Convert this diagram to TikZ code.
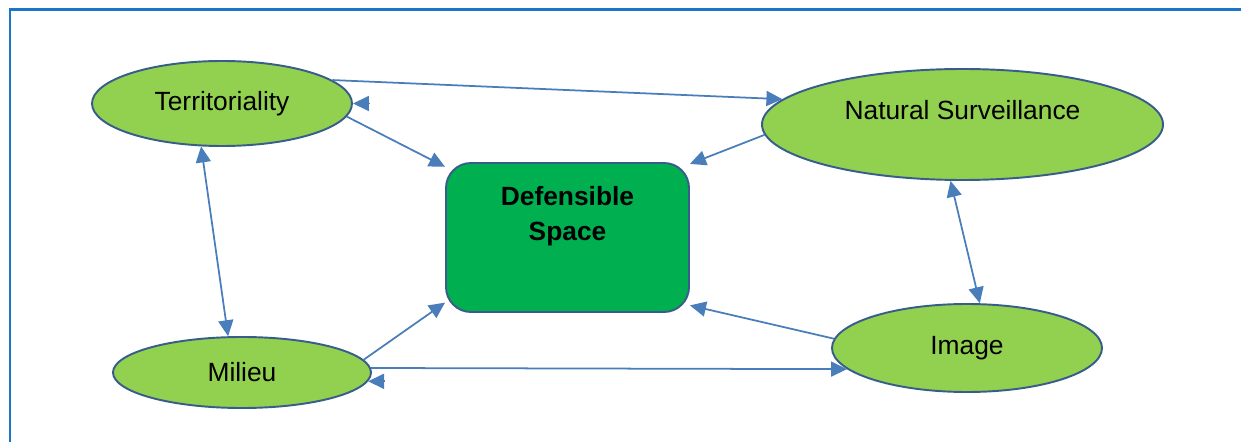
\documentclass[tikz,border=0pt]{standalone}
\usepackage{fontspec}
\setmainfont{Liberation Sans}
\usetikzlibrary{shapes.geometric,arrows.meta}
\definecolor{framblue}{HTML}{1A76C6}
\definecolor{linkblue}{HTML}{4A7EBB}
\definecolor{rimblue}{HTML}{385D8A}
\definecolor{lightgreen}{HTML}{92D050}
\definecolor{deepgreen}{HTML}{00B050}
\begin{document}
\begin{tikzpicture}[
	   font=\fontsize{15}{18}\selectfont,
	   blob/.style={ellipse,draw=rimblue,fill=lightgreen,line width=1.1pt,inner sep=0pt},
	   core/.style={rectangle,rounded corners=.5cm,draw=rimblue,fill=deepgreen,line width=1.1pt,minimum width=4.86cm,minimum height=2.98cm},
	   arrowhd/.tip={Triangle[length=.32cm,width=.3cm]},
	   arr/.style={-arrowhd,draw=linkblue,line width=1pt},
	   dbl/.style={arrowhd-arrowhd,draw=linkblue,line width=1pt}]
	   \useasboundingbox(0,0)rectangle(24.82,-8.84);
	   \draw[framblue,line width=1.6pt](.2,-.19)rectangle(26,-10);
	   \node[blob,minimum width=5.2cm,minimum height=1.7cm](terr)at(4.44,-2.07){Territoriality};
	   \node[blob,minimum width=8.02cm,minimum height=2.22cm,text height=.4cm,text depth=.6cm](ns)at(19.25,-2.49){Natural Surveillance};
	   \node[blob,minimum width=5.16cm,minimum height=1.42cm](milieu)at(4.84,-7.45){Milieu};
	   \node[blob,minimum width=5.4cm,minimum height=1.76cm](image)at(19.34,-6.96){Image};
	   \node[core](ds)at(11.35,-4.75){};
	   \node[align=center,font=\fontsize{15}{19.9}\selectfont\bfseries](dstext)at([yshift=.42cm]ds.center){Defensible\\Space};
	   \draw[arr](terr.12)--(ns.172);
	   \draw[arr]([xshift=.32cm]terr.east)--(terr.east);
	   \draw[arr](terr.-6)--(ds.150);
	   \draw[arr](ns.183)--(ds.31);
	   \draw[arr](image.176)--(ds.-29);
	   \draw[arr](milieu.6)--(ds.208);
	   \draw[arr](milieu.2)--(image.190);
	   \draw[arr]([xshift=.32cm]milieu.-4)--(milieu.-4);
	   \draw[dbl](terr.-116)--(milieu.111);
	   \draw[dbl](ns.-102)--(image.74);
	\end{tikzpicture}
\end{document}
